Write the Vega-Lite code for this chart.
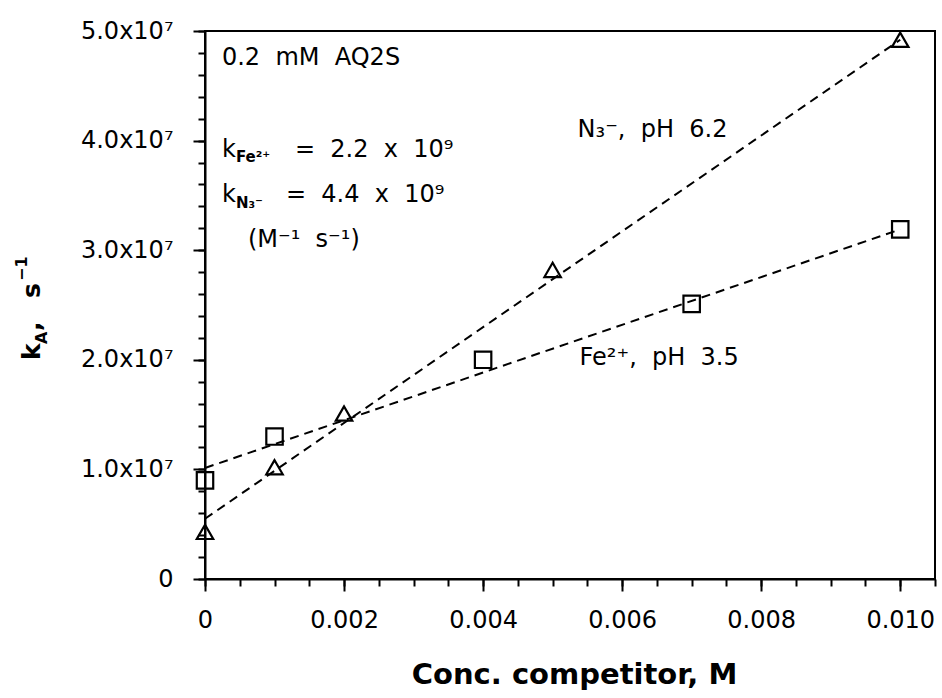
{
  "$schema": "https://vega.github.io/schema/vega-lite/v6.json",
  "width": 730,
  "height": 548,
  "autosize": {"type": "none"},
  "padding": {"left": 205, "top": 31, "right": 7, "bottom": 119},
  "background": "white",
  "config": {
    "font": "DejaVu Sans",
    "view": {"stroke": "black", "strokeWidth": 2},
    "axis": {"grid": false, "domainColor": "black", "tickColor": "black", "labelColor": "black", "titleColor": "black", "labelFont": "DejaVu Sans", "titleFont": "DejaVu Sans"}
  },
  "datasets": {
    "fits": [
      {"series": "Fe2+", "conc": 0, "kA": 10130000},
      {"series": "Fe2+", "conc": 0.010, "kA": 31900000},
      {"series": "N3-", "conc": 0, "kA": 5500000},
      {"series": "N3-", "conc": 0.010, "kA": 49200000}
    ],
    "points": [
      {"series": "Fe2+", "conc": 0, "kA": 9000000},
      {"series": "Fe2+", "conc": 0.001, "kA": 13000000},
      {"series": "Fe2+", "conc": 0.004, "kA": 20000000},
      {"series": "Fe2+", "conc": 0.007, "kA": 25100000},
      {"series": "Fe2+", "conc": 0.010, "kA": 31900000},
      {"series": "N3-", "conc": 0, "kA": 4300000},
      {"series": "N3-", "conc": 0.001, "kA": 10200000},
      {"series": "N3-", "conc": 0.002, "kA": 15100000},
      {"series": "N3-", "conc": 0.005, "kA": 28200000},
      {"series": "N3-", "conc": 0.010, "kA": 49200000}
    ],
    "notes": [
      {"label": "0.2\u00a0 mM\u00a0 AQ2S", "conc": 0.000244, "kA": 46900000},
      {"label": "k", "conc": 0.000244, "kA": 38500000},
      {"label": "=\u00a0 2.2\u00a0 x\u00a0 10⁹", "conc": 0.001293, "kA": 38500000},
      {"label": "k", "conc": 0.000244, "kA": 34400000},
      {"label": "=\u00a0 4.4\u00a0 x\u00a0 10⁹", "conc": 0.001164, "kA": 34400000},
      {"label": "(M⁻¹\u00a0 s⁻¹)", "conc": 0.000618, "kA": 30290000},
      {"label": "N₃⁻,\u00a0 pH\u00a0 6.2", "conc": 0.005359, "kA": 40330000},
      {"label": "Fe²⁺,\u00a0 pH\u00a0 3.5", "conc": 0.005388, "kA": 19530000}
    ],
    "subs": [
      {"label": "Fe²⁺", "conc": 0.000445, "kA": 38050000},
      {"label": "N₃⁻", "conc": 0.000445, "kA": 33850000}
    ],
    "ytitle": [
      {"label": "k", "conc": -0.002370, "kA": 19980000},
      {"label": ",", "conc": -0.002370, "kA": 22630000},
      {"label": "s", "conc": -0.002370, "kA": 25640000}
    ],
    "ytitlesub": [
      {"label": "A", "conc": -0.002270, "kA": 21440000},
      {"label": "−1", "conc": -0.002560, "kA": 27190000}
    ]
  },
  "resolve": {"axis": {"x": "independent", "y": "independent"}},
  "layer": [
    {
      "data": {"name": "fits"},
      "mark": {"type": "line", "strokeDash": [9, 6], "strokeWidth": 2, "color": "black"},
      "encoding": {
        "x": {"field": "conc", "type": "quantitative", "scale": {"domain": [0, 0.0105], "nice": false, "zero": false},
          "axis": {"orient": "bottom", "values": [0, 0.0005, 0.001, 0.0015, 0.002, 0.0025, 0.003, 0.0035, 0.004, 0.0045, 0.005, 0.0055, 0.006, 0.0065, 0.007, 0.0075, 0.008, 0.0085, 0.009, 0.0095, 0.010, 0.0105], "tickSize": 7, "tickWidth": 2, "labels": false, "domain": false, "title": null}},
        "y": {"field": "kA", "type": "quantitative", "scale": {"domain": [0, 50000000], "nice": false},
          "axis": {"orient": "left", "values": [0, 2000000, 4000000, 6000000, 8000000, 10000000, 12000000, 14000000, 16000000, 18000000, 20000000, 22000000, 24000000, 26000000, 28000000, 30000000, 32000000, 34000000, 36000000, 38000000, 40000000, 42000000, 44000000, 46000000, 48000000, 50000000], "tickSize": 7, "tickWidth": 2, "labels": false, "domain": false, "title": null}},
        "detail": {"field": "series", "type": "nominal"}
      }
    },
    {
      "data": {"name": "points"},
      "mark": {"type": "point", "filled": false, "strokeWidth": 2.2, "color": "black", "size": 270, "opacity": 1},
      "encoding": {
        "x": {"field": "conc", "type": "quantitative", "scale": {"domain": [0, 0.0105], "nice": false, "zero": false},
          "axis": {"orient": "bottom", "values": [0, 0.002, 0.004, 0.006, 0.008, 0.010], "tickSize": 12, "tickWidth": 2, "domainWidth": 2, "labelFontSize": 24, "labelPadding": 17, "labelFlush": false, "labelExpr": "datum.value == 0 ? '0' : format(datum.value, '.3f')", "title": "Conc. competitor, M", "titleFontSize": 29, "titleFontWeight": "bold", "titleX": 369, "titleY": 104, "titleBaseline": "alphabetic"}},
        "y": {"field": "kA", "type": "quantitative", "scale": {"domain": [0, 50000000], "nice": false},
          "axis": {"orient": "left", "values": [0, 10000000, 20000000, 30000000, 40000000, 50000000], "tickSize": 12, "tickWidth": 2, "domainWidth": 2, "labelFontSize": 24, "labelPadding": 20, "labelFlush": false, "labelExpr": "datum.value == 0 ? '0' : format(datum.value / 10000000, '.1f') + 'x10⁷'", "title": null}},
        "shape": {"field": "series", "type": "nominal", "scale": {"domain": ["Fe2+", "N3-"], "range": ["square", "triangle-up"]}, "legend": null}
      }
    },
    {
      "data": {"name": "notes"},
      "mark": {"type": "text", "align": "left", "baseline": "alphabetic", "fontSize": 24, "color": "black"},
      "encoding": {
        "x": {"field": "conc", "type": "quantitative", "scale": {"domain": [0, 0.0105], "nice": false, "zero": false}, "axis": null},
        "y": {"field": "kA", "type": "quantitative", "scale": {"domain": [0, 50000000], "nice": false}, "axis": null},
        "text": {"field": "label", "type": "nominal"}
      }
    },
    {
      "data": {"name": "subs"},
      "mark": {"type": "text", "align": "left", "baseline": "alphabetic", "fontSize": 15, "fontWeight": "bold", "color": "black"},
      "encoding": {
        "x": {"field": "conc", "type": "quantitative", "scale": {"domain": [0, 0.0105], "nice": false, "zero": false}, "axis": null},
        "y": {"field": "kA", "type": "quantitative", "scale": {"domain": [0, 50000000], "nice": false}, "axis": null},
        "text": {"field": "label", "type": "nominal"}
      }
    },
    {
      "data": {"name": "ytitle"},
      "mark": {"type": "text", "align": "left", "baseline": "alphabetic", "angle": 270, "fontSize": 25, "fontWeight": "bold", "color": "black"},
      "encoding": {
        "x": {"field": "conc", "type": "quantitative", "scale": {"domain": [0, 0.0105], "nice": false, "zero": false}, "axis": null},
        "y": {"field": "kA", "type": "quantitative", "scale": {"domain": [0, 50000000], "nice": false}, "axis": null},
        "text": {"field": "label", "type": "nominal"}
      }
    },
    {
      "data": {"name": "ytitlesub"},
      "mark": {"type": "text", "align": "left", "baseline": "alphabetic", "angle": 270, "fontSize": 16, "fontWeight": "bold", "color": "black"},
      "encoding": {
        "x": {"field": "conc", "type": "quantitative", "scale": {"domain": [0, 0.0105], "nice": false, "zero": false}, "axis": null},
        "y": {"field": "kA", "type": "quantitative", "scale": {"domain": [0, 50000000], "nice": false}, "axis": null},
        "text": {"field": "label", "type": "nominal"}
      }
    }
  ]
}
